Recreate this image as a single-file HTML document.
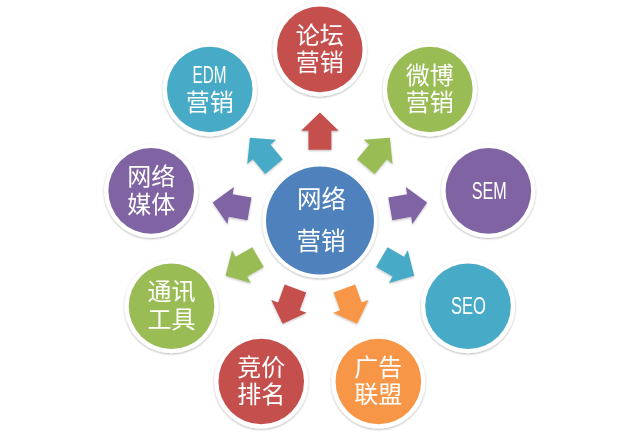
<!DOCTYPE html>
<html lang="zh"><head><meta charset="utf-8"><title>网络营销</title>
<style>
html,body{margin:0;padding:0;background:#fff;}
body{width:640px;height:435px;overflow:hidden;font-family:"Liberation Sans",sans-serif;}
svg{display:block}
.t{font-family:"Liberation Sans","Noto Sans CJK SC",sans-serif;font-size:24px;fill:#fff}
</style></head><body>
<svg width="640" height="435" viewBox="0 0 640 435">
<defs>
<filter id="sh" x="-20%" y="-20%" width="140%" height="140%"><feGaussianBlur in="SourceAlpha" stdDeviation="1.1"/><feOffset dx="0.2" dy="1.3" result="o"/><feComponentTransfer><feFuncA type="linear" slope="0.30"/></feComponentTransfer><feMerge><feMergeNode/><feMergeNode in="SourceGraphic"/></feMerge></filter>
<filter id="sa" x="-30%" y="-30%" width="160%" height="160%"><feGaussianBlur in="SourceAlpha" stdDeviation="1.0"/><feOffset dx="0.2" dy="1.0" result="o"/><feComponentTransfer><feFuncA type="linear" slope="0.28"/></feComponentTransfer><feMerge><feMergeNode/><feMergeNode in="SourceGraphic"/></feMerge></filter>
<filter id="bl" x="0" y="0" width="100%" height="100%" filterUnits="userSpaceOnUse"><feGaussianBlur stdDeviation="0.45"/></filter>
</defs>
<rect width="640" height="435" fill="#fff"/>
<g filter="url(#bl)">

<g filter="url(#sa)">
<polygon points="0.00,-18.70 18.80,-0.40 11.45,-0.40 11.45,18.70 -11.45,18.70 -11.45,-0.40 -18.80,-0.40" fill="#C44F4D" transform="translate(319.90 131.10) rotate(0)"/>
<polygon points="0.00,-18.70 18.80,-0.40 11.45,-0.40 11.45,18.70 -11.45,18.70 -11.45,-0.40 -18.80,-0.40" fill="#99BC55" transform="translate(377.88 152.20) rotate(40)"/>
<polygon points="0.00,-18.70 18.80,-0.40 11.45,-0.40 11.45,18.70 -11.45,18.70 -11.45,-0.40 -18.80,-0.40" fill="#8064A2" transform="translate(408.73 205.64) rotate(80)"/>
<polygon points="0.00,-18.70 18.80,-0.40 11.45,-0.40 11.45,18.70 -11.45,18.70 -11.45,-0.40 -18.80,-0.40" fill="#47AAC7" transform="translate(398.02 266.40) rotate(120)"/>
<polygon points="0.00,-18.70 18.80,-0.40 11.45,-0.40 11.45,18.70 -11.45,18.70 -11.45,-0.40 -18.80,-0.40" fill="#F79646" transform="translate(350.75 306.06) rotate(160)"/>
<polygon points="0.00,-18.70 18.80,-0.40 11.45,-0.40 11.45,18.70 -11.45,18.70 -11.45,-0.40 -18.80,-0.40" fill="#C44F4D" transform="translate(289.05 306.06) rotate(200)"/>
<polygon points="0.00,-18.70 18.80,-0.40 11.45,-0.40 11.45,18.70 -11.45,18.70 -11.45,-0.40 -18.80,-0.40" fill="#99BC55" transform="translate(241.78 266.40) rotate(240)"/>
<polygon points="0.00,-18.70 18.80,-0.40 11.45,-0.40 11.45,18.70 -11.45,18.70 -11.45,-0.40 -18.80,-0.40" fill="#8064A2" transform="translate(231.07 205.64) rotate(280)"/>
<polygon points="0.00,-18.70 18.80,-0.40 11.45,-0.40 11.45,18.70 -11.45,18.70 -11.45,-0.40 -18.80,-0.40" fill="#47AAC7" transform="translate(261.92 152.20) rotate(320)"/>
</g>
<g><circle cx="319.78" cy="49.40" r="47.0" fill="#fff" filter="url(#sh)"/><circle cx="319.78" cy="49.40" r="42.8" fill="#C44F4D"/>
<text class="t" x="319.8" y="43.6" text-anchor="middle">论坛</text>
<text class="t" x="319.8" y="71.2" text-anchor="middle">营销</text>
</g>
<g><circle cx="429.83" cy="89.45" r="47.0" fill="#fff" filter="url(#sh)"/><circle cx="429.83" cy="89.45" r="42.8" fill="#99BC55"/>
<text class="t" x="429.8" y="83.7" text-anchor="middle">微博</text>
<text class="t" x="429.8" y="111.3" text-anchor="middle">营销</text>
</g>
<g><circle cx="488.38" cy="190.87" r="47.0" fill="#fff" filter="url(#sh)"/><circle cx="488.38" cy="190.87" r="42.8" fill="#8064A2"/>
<text class="t" x="489.2" y="198.8" text-anchor="middle" style="font-size:23px" textLength="35" lengthAdjust="spacingAndGlyphs">SEM</text>
</g>
<g><circle cx="468.04" cy="306.20" r="47.0" fill="#fff" filter="url(#sh)"/><circle cx="468.04" cy="306.20" r="42.8" fill="#47AAC7"/>
<text class="t" x="468.4" y="314.1" text-anchor="middle" style="font-size:23px" textLength="35" lengthAdjust="spacingAndGlyphs">SEO</text>
</g>
<g><circle cx="378.33" cy="381.48" r="47.0" fill="#fff" filter="url(#sh)"/><circle cx="378.33" cy="381.48" r="42.8" fill="#F79646"/>
<text class="t" x="378.3" y="375.7" text-anchor="middle">广告</text>
<text class="t" x="378.3" y="403.3" text-anchor="middle">联盟</text>
</g>
<g><circle cx="261.23" cy="381.48" r="47.0" fill="#fff" filter="url(#sh)"/><circle cx="261.23" cy="381.48" r="42.8" fill="#C44F4D"/>
<text class="t" x="261.2" y="375.7" text-anchor="middle">竞价</text>
<text class="t" x="261.2" y="403.3" text-anchor="middle">排名</text>
</g>
<g><circle cx="171.52" cy="306.20" r="47.0" fill="#fff" filter="url(#sh)"/><circle cx="171.52" cy="306.20" r="42.8" fill="#99BC55"/>
<text class="t" x="171.5" y="300.4" text-anchor="middle">通讯</text>
<text class="t" x="171.5" y="328.0" text-anchor="middle">工具</text>
</g>
<g><circle cx="151.18" cy="190.87" r="47.0" fill="#fff" filter="url(#sh)"/><circle cx="151.18" cy="190.87" r="42.8" fill="#8064A2"/>
<text class="t" x="151.2" y="185.1" text-anchor="middle">网络</text>
<text class="t" x="151.2" y="212.7" text-anchor="middle">媒体</text>
</g>
<g><circle cx="209.73" cy="89.45" r="47.0" fill="#fff" filter="url(#sh)"/><circle cx="209.73" cy="89.45" r="42.8" fill="#47AAC7"/>
<text class="t" x="209.6" y="82.7" text-anchor="middle" style="font-size:23px" textLength="34" lengthAdjust="spacingAndGlyphs">EDM</text>
<text class="t" x="209.7" y="111.3" text-anchor="middle">营销</text>
</g>
<g><circle cx="320.0" cy="220.6" r="57.6" fill="#fff" filter="url(#sh)"/><circle cx="320.0" cy="220.6" r="54.0" fill="#4F81BD"/>
<text class="t" x="321.4" y="208.1" text-anchor="middle" style="font-size:24.5px">网络</text>
<text class="t" x="321.0" y="249.6" text-anchor="middle" style="font-size:24.5px">营销</text>
</g>
</g></svg></body></html>
